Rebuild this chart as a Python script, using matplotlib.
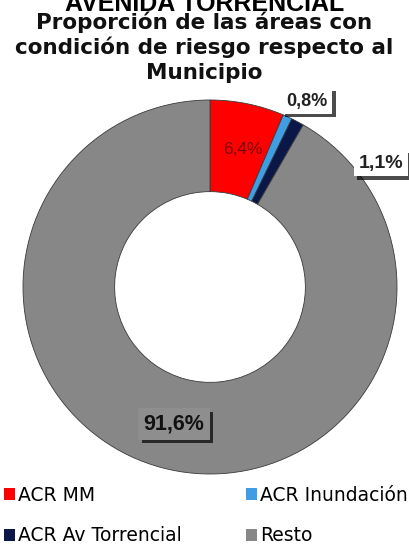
#!/usr/bin/env python3
"""Donut chart: share of risk-condition areas relative to the municipality."""

import matplotlib.pyplot as plt
import matplotlib.patheffects as pe
from matplotlib.patches import Patch

plt.rcParams["font.family"] = ["Liberation Sans", "DejaVu Sans"]

categories = ["ACR MM", "ACR Inundación", "ACR Av Torrencial", "Resto"]
shares = [6.4, 0.8, 1.1, 91.6]
colors = ["#ff0000", "#3f9ee3", "#0b1747", "#878787"]

heading = "AVENIDA TORRENCIAL"
title_lines = [
    "Proporción de las áreas con",
    "condición de riesgo respecto al",
    "Municipio",
]

W, H = 409, 550
fig = plt.figure(figsize=(W / 100, H / 100), dpi=100)
fig.patch.set_facecolor("white")

# donut centre and radius in pixels
cx, cy, R = 210, 287, 187
ax = fig.add_axes([(cx - R) / W, (H - cy - R) / H, 2 * R / W, 2 * R / H])
wedges, _ = ax.pie(
    shares,
    colors=colors,
    startangle=90,
    counterclock=False,
    radius=1.0,
    wedgeprops=dict(width=0.49, edgecolor="#3a3a3a", linewidth=0.6),
)
ax.set_xlim(-1, 1)
ax.set_ylim(-1, 1)
ax.set_aspect("equal")
ax.axis("off")


def fmt(v):
    return f"{v:.1f}".replace(".", ",") + "%"


def px(x, y):
    return (x - cx) / R, (cy - y) / R


shadow = [pe.withSimplePatchShadow(offset=(2.5, -2.5), shadow_rgbFace="black", alpha=0.7)]

# label styles per slice: position (pixels), size, colours
label_style = [
    dict(pos=(243, 150), size=12.5, weight="normal", color="#7a0000", box=None),
    dict(pos=(307, 101), size=13, weight="bold", color="#222222", box="white"),
    dict(pos=(381, 163), size=14, weight="bold", color="#222222", box="white"),
    dict(pos=(174, 424), size=15.5, weight="bold", color="#111111", box="#8e8e8e"),
]
for v, st in zip(shares, label_style):
    x, y = px(*st["pos"])
    bbox = None
    if st["box"] is not None:
        bbox = dict(boxstyle="square,pad=0.25", facecolor=st["box"], edgecolor="none")
    t = ax.text(x, y, fmt(v), ha="center", va="center", fontsize=st["size"],
                fontweight=st["weight"], color=st["color"], bbox=bbox, clip_on=False)
    if bbox is not None:
        t.get_bbox_patch().set_path_effects(shadow)

# headings
fig.text(0.5, 1 - 11 / H, heading, ha="center", va="baseline",
         fontsize=18, fontweight="bold", color="black")
for i, line in enumerate(title_lines):
    fig.text(0.5, 1 - (29 + 25 * i) / H, line, ha="center", va="baseline",
             fontsize=15.5, fontweight="bold", color="#111111",
             family=["DejaVu Sans"])

# legend, filled row by row
handles = [Patch(facecolor=c, edgecolor="none") for c in colors]
order = [0, 2, 1, 3]
fig.legend(
    [handles[i] for i in order],
    [categories[i] for i in order],
    ncol=2,
    loc="upper left",
    bbox_to_anchor=(4 / W, 1 - 486 / H),
    frameon=False,
    prop=dict(family=["DejaVu Sans"], size=13.5),
    handlelength=0.6,
    handleheight=0.6,
    handletextpad=0.15,
    columnspacing=3.4,
    labelspacing=1.13,
    borderpad=0,
    borderaxespad=0,
)

fig.savefig("out.png", dpi=100)
